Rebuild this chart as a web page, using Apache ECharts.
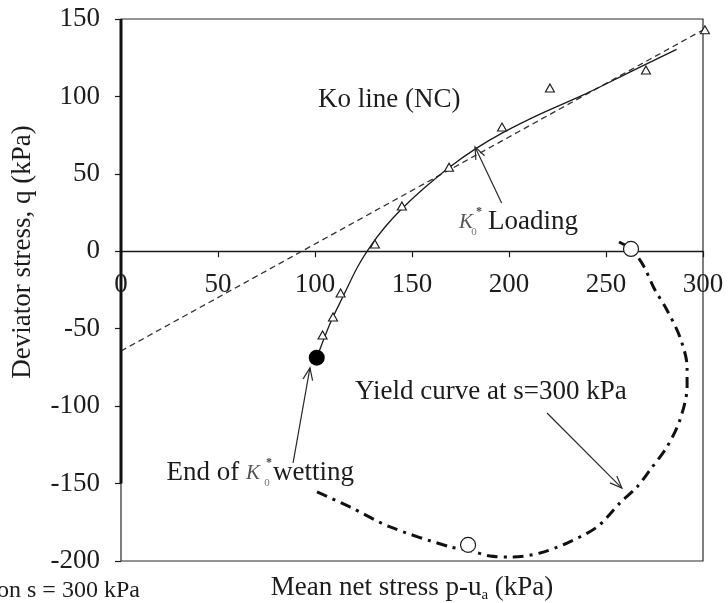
<!DOCTYPE html>
<html>
<head>
<meta charset="utf-8">
<script src="https://cdn.jsdelivr.net/npm/echarts@6/dist/echarts.min.js"></script>
<style>
  html, body { margin: 0; padding: 0; background: #fff; }
  #chart { width: 728px; height: 603px; }
</style>
</head>
<body>
<div id="chart"></div>
<script>
// Axis ranges (kPa)
const xTicks = [0, 50, 100, 150, 200, 250, 300];
const yTicks = [-200, -150, -100, -50, 0, 50, 100, 150];

// Measured K0* loading points: mean net stress p-ua and deviator stress q
const loadP = [103.9, 109.3, 113.2, 130.9, 144.8, 169.1, 196.4, 221.1, 270.6, 301.0];
const loadQ = [-54.0, -42.4, -26.9, 4.7, 29.3, 54.3, 80.2, 105.5, 117.1, 143.0];

// Fitted stress path from end of wetting through loading
const pathP = [100.9, 108.0, 115.0, 122.0, 129.0, 136.0, 144.0, 156.0, 169.0, 182.5, 197.1, 216.0, 238.3, 262.0, 286.4];
const pathQ = [-68.7, -46.0, -27.8, -10.0, 4.0, 15.5, 26.5, 40.5, 54.0, 66.0, 76.8, 88.6, 101.0, 115.5, 130.4];

// Ko line (NC)
const koP = [0, 303];
const koQ = [-64.4, 145.0];

// Yield curve at s = 300 kPa
const yieldP = [256.7, 262.9, 269.1, 274.7, 281.4, 288.1, 291.8, 291.8, 288.1, 281.4, 272.7, 266.0, 257.2, 245.4, 229.9, 216.0, 202.1, 190.2, 178.9, 169.6, 138.7, 118.0, 99.0];
const yieldQ = [6.0, 1.5, -8.8, -23.7, -37.9, -55.4, -74.7, -87.6, -108.9, -126.4, -141.2, -152.2, -162.5, -178.0, -188.4, -194.8, -197.4, -196.8, -192.9, -190.9, -178.0, -165.1, -154.2];

// Yield points on the curve (open circles)
const yieldPtP = [262.9, 178.9];
const yieldPtQ = [1.5, -189.6];

// End of K0* wetting (filled circle)
const wetEndP = [100.9];
const wetEndQ = [-68.7];

// Thick left axis segment
const axisSegP = [0, 0];
const axisSegQ = [150, -150];

// Annotation arrows: start (p, q) -> tip (p, q)
const arrowFromP = [196.2, 88.7, 219.6];
const arrowFromQ = [31.2, -136.6, -104.4];
const arrowToP = [182.5, 97.4, 258.2];
const arrowToQ = [67.4, -75.3, -152.9];

// Plain annotation texts (left edge, vertical centre)
const noteText = ['Ko line (NC)', 'Yield curve at s=300 kPa'];
const noteP = [101.5, 120.6];
const noteQ = [97.7, -90.9];

// K0* annotations: text before the K, text after, anchor at right edge of K
const kBefore = ['', 'End of '];
const kAfter = ['Loading', 'wetting'];
const kP = [181.4, 71.6];
const kQ = [18.9, -143.2];

const zip = (a, b) => a.map((v, i) => [v, b[i]]);

const SERIF = '"Liberation Serif", "DejaVu Serif", serif';
const INK = '#1c1c1c';
const FS = 27;

// grid geometry
const GRID = { left: 121, right: 25, top: 19, bottom: 42 };
const plotH = 603 - GRID.top - GRID.bottom;
const yMin = yTicks[0], yMax = yTicks[yTicks.length - 1];
// the p axis sits on q = 0
const xAxisOffset = -plotH * (0 - yMin) / (yMax - yMin);

const chart = echarts.init(document.getElementById('chart'), null, { renderer: 'canvas' });

function renderArrow(params, api) {
  const a = api.coord([api.value(0), api.value(1)]);
  const b = api.coord([api.value(2), api.value(3)]);
  const ang = Math.atan2(b[1] - a[1], b[0] - a[0]);
  const L = 13, w = 0.38;
  const h1 = [b[0] - L * Math.cos(ang - w), b[1] - L * Math.sin(ang - w)];
  const h2 = [b[0] - L * Math.cos(ang + w), b[1] - L * Math.sin(ang + w)];
  return {
    type: 'group',
    children: [
      { type: 'line', shape: { x1: a[0], y1: a[1], x2: b[0], y2: b[1] }, style: { stroke: '#2a2a2a', lineWidth: 1.2 } },
      { type: 'polyline', shape: { points: [h1, b, h2] }, style: { stroke: '#2a2a2a', lineWidth: 1.2, fill: null } }
    ]
  };
}

function renderNote(params, api) {
  const c = api.coord([api.value(0), api.value(1)]);
  return {
    type: 'text',
    x: c[0], y: c[1],
    style: {
      text: noteText[params.dataIndex],
      fill: INK,
      font: FS + 'px ' + SERIF,
      align: 'left',
      verticalAlign: 'middle'
    }
  };
}

// per-note offsets of superscript *, subscript 0 and following word
const kSupDx = [6, 9], kSubDx = [1, 7], kRestDx = [15, 13];

function renderKNote(params, api) {
  const i = params.dataIndex;
  const c = api.coord([api.value(0), api.value(1)]);
  const x0 = c[0], y0 = c[1];
  return {
    type: 'group',
    children: [
      {
        type: 'text', x: x0, y: y0,
        style: {
          text: kBefore[i] + '{k|K}',
          fill: INK, font: FS + 'px ' + SERIF,
          align: 'right', verticalAlign: 'middle',
          rich: { k: { fontStyle: 'italic', fontSize: 21, fontFamily: SERIF, fill: '#555' } }
        }
      },
      { type: 'text', x: x0 + kSupDx[i], y: y0 - 10, style: { text: '*', fill: '#444', font: 'bold 12px ' + SERIF, align: 'center', verticalAlign: 'middle' } },
      { type: 'text', x: x0 + kSubDx[i], y: y0 + 10, style: { text: '0', fill: '#777', font: '11px ' + SERIF, align: 'center', verticalAlign: 'middle' } },
      { type: 'text', x: x0 + kRestDx[i], y: y0, style: { text: kAfter[i], fill: INK, font: FS + 'px ' + SERIF, align: 'left', verticalAlign: 'middle' } }
    ]
  };
}

const option = {
  backgroundColor: '#fff',
  animation: false,
  grid: Object.assign({ show: true, borderColor: '#2a2a2a', borderWidth: 1.2 }, GRID),
  xAxis: {
    type: 'value', min: xTicks[0], max: xTicks[xTicks.length - 1], interval: 50,
    position: 'bottom', offset: xAxisOffset,
    axisLine: { onZero: false, lineStyle: { color: '#1a1a1a', width: 1.3 } },
    axisTick: { show: true, inside: false, length: 6, lineStyle: { color: '#1a1a1a', width: 1.2 } },
    axisLabel: { color: INK, fontSize: FS, fontFamily: SERIF, margin: 20, showMinLabel: true, showMaxLabel: true },
    splitLine: { show: false }
  },
  yAxis: {
    type: 'value', min: yMin, max: yMax, interval: 50,
    axisLine: { show: false },
    axisTick: { show: true, length: 6, lineStyle: { color: '#1a1a1a', width: 1.2 } },
    axisLabel: { color: INK, fontSize: FS, fontFamily: SERIF, margin: 21 },
    splitLine: { show: false }
  },
  graphic: [
    {
      type: 'text', x: 23, y: 252, rotation: Math.PI / 2,
      style: { text: 'Deviator stress, q (kPa)', fill: INK, font: FS + 'px ' + SERIF, align: 'center', verticalAlign: 'middle' }
    },
    {
      type: 'text', x: 412, y: 588,
      style: {
        text: 'Mean net stress p-u{sub|a} (kPa)',
        fill: INK, font: FS + 'px ' + SERIF, align: 'center', verticalAlign: 'middle',
        lineHeight: 30,
        rich: { sub: { fontSize: 15, fontFamily: SERIF, fill: INK, lineHeight: 15, verticalAlign: 'bottom' } }
      }
    },
    {
      type: 'text', x: -3, y: 591,
      style: { text: 'on s = 300 kPa', fill: INK, font: '24px ' + SERIF, align: 'left', verticalAlign: 'middle' }
    }
  ],
  series: [
    {
      name: 'Left axis', type: 'line', data: zip(axisSegP, axisSegQ),
      symbol: 'none', lineStyle: { color: '#111', width: 3 }, z: 5, silent: true
    },
    {
      name: 'Ko line (NC)', type: 'line', data: zip(koP, koQ), clip: false,
      symbol: 'none', lineStyle: { color: '#333', width: 1.3, type: [6, 4] }, z: 2
    },
    {
      name: 'Stress path', type: 'line', data: zip(pathP, pathQ), smooth: 0.3,
      symbol: 'none', lineStyle: { color: '#1a1a1a', width: 1.3 }, z: 3
    },
    {
      name: 'K0* loading', type: 'scatter', data: zip(loadP, loadQ), clip: false,
      symbol: 'triangle', symbolSize: [9, 8],
      itemStyle: { color: '#fff', borderColor: '#1a1a1a', borderWidth: 1.1, opacity: 1 }, z: 4
    },
    {
      name: 'Yield curve', type: 'line', data: zip(yieldP, yieldQ), smooth: 0.3,
      symbol: 'none', lineStyle: { color: '#111', width: 3, type: [11, 6, 3, 6] }, z: 3
    },
    {
      name: 'Yield points', type: 'scatter', data: zip(yieldPtP, yieldPtQ),
      symbol: 'circle', symbolSize: 15,
      itemStyle: { color: '#fff', borderColor: '#1a1a1a', borderWidth: 1.2, opacity: 1 }, z: 4
    },
    {
      name: 'End of wetting', type: 'scatter', data: zip(wetEndP, wetEndQ),
      symbol: 'circle', symbolSize: 16, itemStyle: { color: '#000', opacity: 1 }, z: 4
    },
    {
      name: 'Arrows', type: 'custom', renderItem: renderArrow, clip: false,
      data: arrowFromP.map((p, i) => [p, arrowFromQ[i], arrowToP[i], arrowToQ[i]]),
      encode: { x: [0, 2], y: [1, 3] }, z: 6, silent: true
    },
    {
      name: 'Notes', type: 'custom', renderItem: renderNote, clip: false,
      data: zip(noteP, noteQ), z: 6, silent: true
    },
    {
      name: 'K notes', type: 'custom', renderItem: renderKNote, clip: false,
      data: zip(kP, kQ), z: 6, silent: true
    }
  ]
};

chart.setOption(option);
</script>
</body>
</html>
